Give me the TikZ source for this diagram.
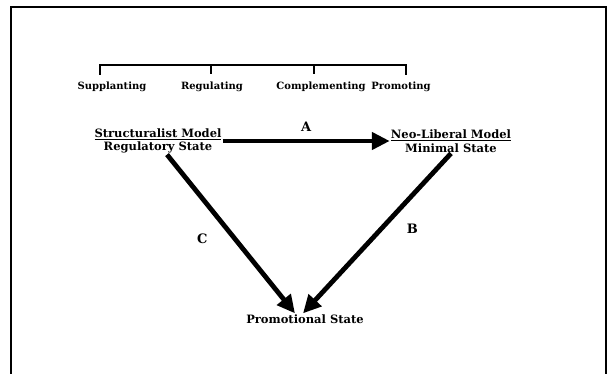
\documentclass[tikz,border=0pt]{standalone}
\usepackage{fontspec}
\setmainfont{DejaVu Serif}
\usetikzlibrary{arrows.meta}

\tikzset{
    lbl/.style={font=\fontsize{10}{12}\selectfont\bfseries, inner sep=1pt},
    model/.style={font=\fontsize{11.5}{13.5}\selectfont\bfseries, inner sep=1pt, align=center},
    letter/.style={font=\fontsize{13}{15}\selectfont\bfseries, inner sep=1pt},
    bigarrow/.style={line width=4.8pt, -{Triangle[length=18pt,width=17pt]}}
}

\begin{document}
\begin{tikzpicture}[x=1pt, y=-1pt]
    \useasboundingbox (0, 0) rectangle (615, 374);

    % Frame (open at the bottom)
    \draw[line width=1.8pt] (11, 374) -- (11, 7) -- (606, 7) -- (606, 374);

    % Bracket over the roles
    \draw[line width=1.8pt] (100, 75) -- (100, 65) -- (406, 65) -- (406, 75);
    \foreach \x in {211, 314} {
        \draw[line width=1.8pt] (\x, 65) -- (\x, 74);
    }

    % Labels for roles
    \node[lbl] (supp) at (112, 87) {Supplanting};
    \node[lbl] (regu) at (212, 87) {Regulating};
    \node[lbl] (comp) at (321, 87) {Complementing};
    \node[lbl] (prom) at (401, 87) {Promoting};

    % The three states
    \node[model] (struct) at (158, 141) {\underline{Structuralist Model}\\Regulatory State};
    \node[model] (neolib) at (451, 141) {\underline{Neo-Liberal Model}\\Minimal State};
    \node[model] (promo) at (305, 319) {Promotional State};

    % Arrows between states
    \draw[bigarrow] (struct.east) -- (neolib.west) node[letter, midway, above=6pt] (lA) {A};
    \draw[bigarrow] ([xshift=9pt]struct.south) -- ([xshift=-10pt]promo.north) node[letter, pos=0.53, left=24pt] (lC) {C};
    \draw[bigarrow] (neolib.south) -- ([xshift=-2pt]promo.north) node[letter, pos=0.47, right=22pt] (lB) {B};

\end{tikzpicture}
\end{document}
